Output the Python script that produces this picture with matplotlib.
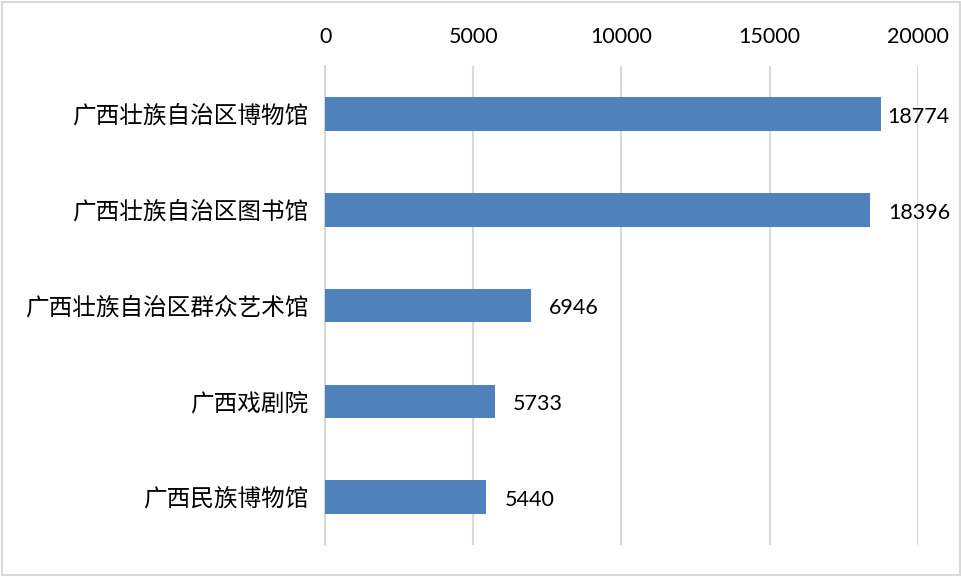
import matplotlib.pyplot as plt

# institutions, top to bottom
names = ["广西壮族自治区博物馆", "广西壮族自治区图书馆", "广西壮族自治区群众艺术馆",
         "广西戏剧院", "广西民族博物馆"]
counts = [18774, 18396, 6946, 5733, 5440]
ticks = [0, 5000, 10000, 15000, 20000]

fig = plt.figure(figsize=(9.62, 5.77), dpi=100)
ax = fig.add_axes([0.338, 0.0555, 0.616, 0.83])

ypos = list(range(len(names)))
ax.barh(ypos, counts, height=0.35, color="#4F81BD", zorder=3)

ax.set_xlim(0, 20000)
ax.set_ylim(len(names) - 0.5, -0.5)
ax.set_xticks(ticks)
ax.set_yticks(ypos)
ax.set_yticklabels(names, family=["Noto Sans CJK SC"], fontsize=17)
ax.xaxis.tick_top()
ax.tick_params(axis="x", length=0, pad=14, labelsize=15.5)
ax.tick_params(axis="y", length=0, pad=12)
for lab in ax.get_xticklabels():
    lab.set_family("Lato")

ax.grid(axis="x", color="#D9D9D9", linewidth=1.5, zorder=0)
for side in ["top", "right", "bottom"]:
    ax.spines[side].set_visible(False)
ax.spines["left"].set_color("#D9D9D9")
ax.spines["left"].set_linewidth(1.5)

# value labels; the longest one is pulled in to stay inside the frame
for y, v in zip(ypos, counts):
    off = 4 if v > 18500 else 13
    ax.annotate(str(v), (v, y), xytext=(off, -2), textcoords="offset points",
                va="center", ha="left", fontsize=15.5, family="Lato")

# light frame round the whole chart
fig.patches.append(plt.Rectangle((0.002, 0.003), 0.996, 0.994, transform=fig.transFigure,
                                 fill=False, edgecolor="#D9D9D9", linewidth=1.5))

fig.savefig("out.png", dpi=100)
